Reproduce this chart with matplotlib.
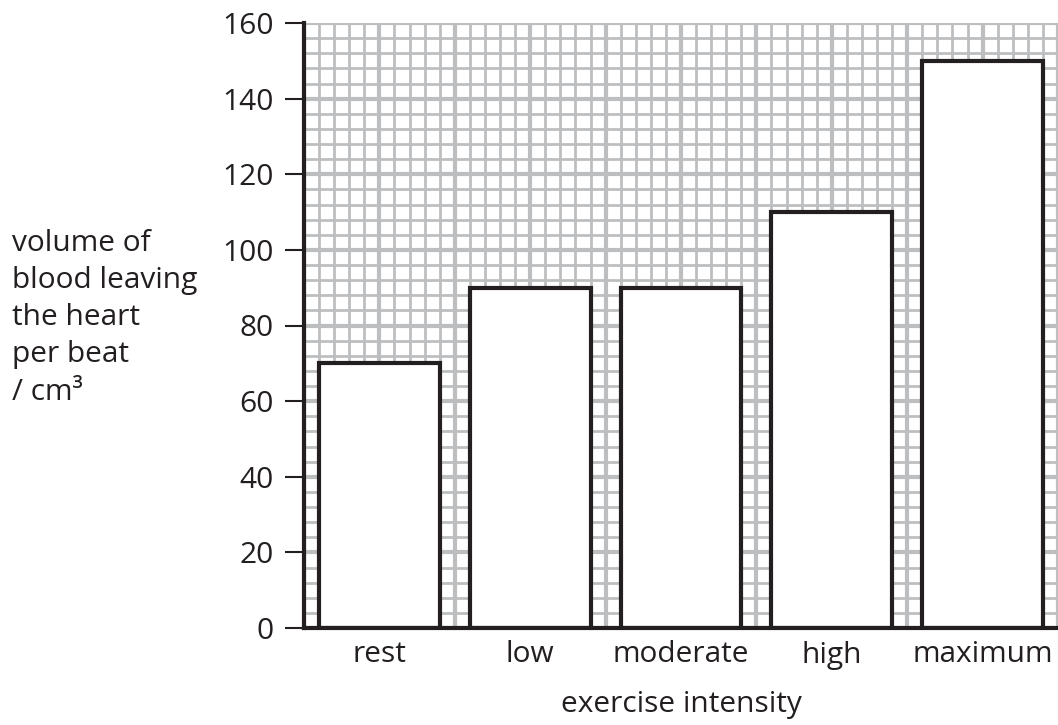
import numpy as np
import matplotlib
matplotlib.use('Agg')
import matplotlib.pyplot as plt
from matplotlib.ticker import MultipleLocator

# data
categories = ['rest', 'low', 'moderate', 'high', 'maximum']
volume = [70, 90, 90, 110, 150]
y_ticks = [0, 20, 40, 60, 80, 100, 120, 140, 160]

plt.rcParams['font.family'] = ['Open Sans', 'DejaVu Sans']
grid_col = '#bcbec0'
ink = '#231f20'
fs = 21.5

fig = plt.figure(figsize=(10.58, 7.25), dpi=100)
ax = fig.add_axes([304/1058, 97/725, 1 - 304/1058, 605/725])

x = np.arange(len(categories))
ax.bar(x, volume, width=0.8, color='white', edgecolor=ink, linewidth=3, zorder=3)

ax.set_xlim(-0.5, 4.5)
ax.set_ylim(0, 160)

# graph-paper grid
ax.xaxis.set_minor_locator(MultipleLocator(0.1))
ax.yaxis.set_minor_locator(MultipleLocator(4))
ax.grid(which='minor', color=grid_col, linewidth=2, zorder=0)
ax.yaxis.grid(which='major', color=grid_col, linewidth=3, zorder=0)
for xv in np.arange(-0.5, 4.51, 0.5):
    ax.axvline(xv, color=grid_col, linewidth=3, zorder=0)
ax.set_axisbelow(True)

ax.set_yticks(y_ticks)
ax.set_yticklabels([str(v) for v in y_ticks])
ax.set_xticks(x)
ax.set_xticklabels(categories)

ax.tick_params(axis='y', which='major', length=14, width=1.5, color=ink,
               labelsize=fs, labelcolor=ink, pad=8)
ax.tick_params(axis='x', which='major', length=0, labelsize=fs,
               labelcolor=ink, pad=9)
ax.tick_params(which='minor', length=0)

for s in ['top', 'right']:
    ax.spines[s].set_visible(False)
for s in ['left', 'bottom']:
    ax.spines[s].set_linewidth(3)
    ax.spines[s].set_color(ink)
    ax.spines[s].set_zorder(4)

ax.set_xlabel('exercise intensity', fontsize=fs, color=ink, labelpad=15)

fig.text(12/1058, 1 - 229/725,
         'volume of\nblood leaving\nthe heart\nper beat\n/ cm\u00b3',
         ha='left', va='top', fontsize=fs, color=ink, linespacing=1.37)

fig.savefig('out.png', dpi=100)
